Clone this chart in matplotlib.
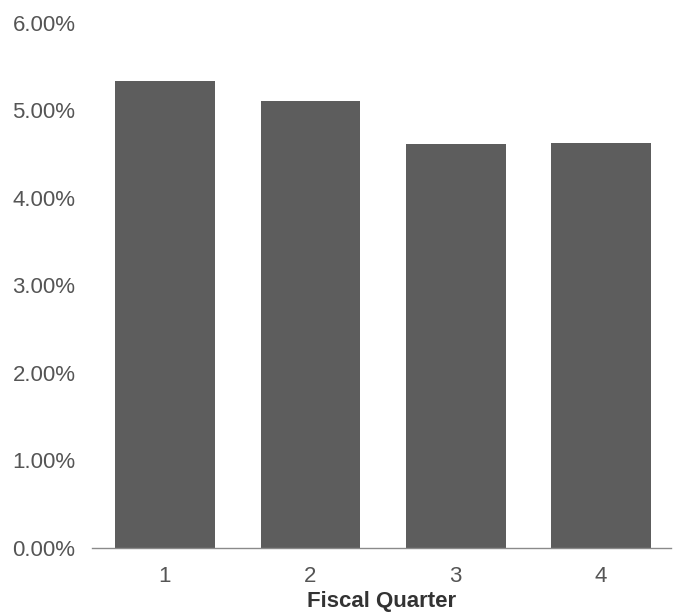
import matplotlib.pyplot as plt
from matplotlib.ticker import FuncFormatter

quarters = [1, 2, 3, 4]
rates = [5.33, 5.10, 4.62, 4.63]
yticks = [0, 1, 2, 3, 4, 5, 6]

plt.rcParams['font.family'] = ['Liberation Sans', 'DejaVu Sans']

fig = plt.figure(figsize=(6.73, 6.13), dpi=100)
ax = fig.add_axes([0.137, 0.106, 0.86, 0.857])

ax.bar(quarters, rates, width=0.685, color='#5d5d5d')

ax.set_xlim(0.5, 4.48)
ax.set_ylim(0, 6)
ax.set_xticks(quarters)
ax.set_yticks(yticks)
ax.yaxis.set_major_formatter(FuncFormatter(lambda v, p: f"{v:.2f}%"))

for s in ['top', 'right', 'left']:
    ax.spines[s].set_visible(False)
ax.spines['bottom'].set_color('#8a8a8a')
ax.spines['bottom'].set_linewidth(1.0)

ax.tick_params(axis='both', length=0, labelsize=16, labelcolor='#555555')
ax.tick_params(axis='y', pad=12)
ax.tick_params(axis='x', pad=13)

ax.set_xlabel("Fiscal Quarter", fontsize=16, fontweight='bold', color='#333333', labelpad=3)

fig.savefig("out.png", dpi=100)
